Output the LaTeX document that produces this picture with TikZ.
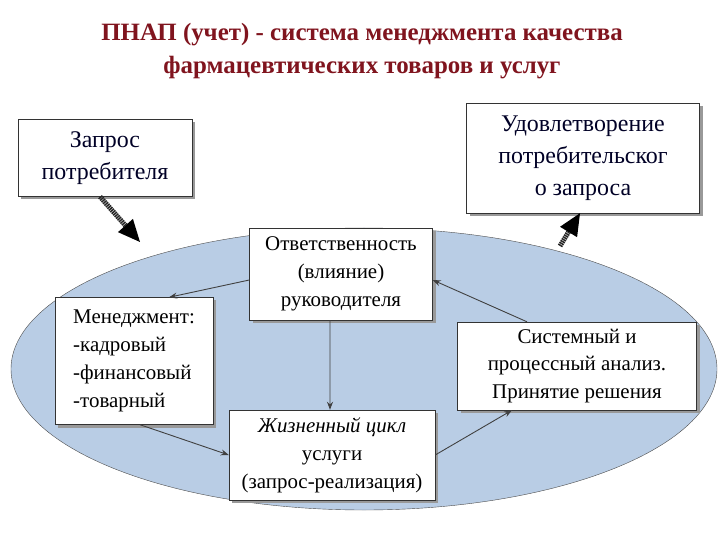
\documentclass[tikz,border=0pt]{standalone}
\usepackage{fontspec}
\setmainfont{Liberation Serif}
\usetikzlibrary{shadows,arrows.meta,shapes.geometric}
\begin{document}
\begin{tikzpicture}[x=1bp,y=-1bp,
  box/.style={draw=black!80,fill=white,drop shadow={shadow xshift=3bp,shadow yshift=-3bp,fill=black!40,opacity=1},align=center,font=\fontsize{21}{28}\selectfont,inner sep=2pt},
  bigbox/.style={box,font=\fontsize{24}{32}\selectfont,text=black!85!blue},
  conn/.style={draw=black!75,line width=0.9pt,-{Stealth[length=8bp,width=6bp]}},
  fat/.style={line width=5pt,draw=black!85,dash pattern=on 1.5pt off 0.7pt,-{Triangle[length=22bp,width=20bp,line width=0pt,fill=black]}}]
\useasboundingbox (0,0) rectangle (720,540);
\node[font=\bfseries\fontsize{25}{33}\selectfont,text={rgb,255:red,128;green,20;blue,30},align=center] (title) at (362,51) {ПНАП (учет) - система менеджмента качества\\фармацевтических товаров и услуг};
\node[ellipse,draw=black!70,fill={rgb,255:red,185;green,205;blue,229},minimum width=706bp,minimum height=282bp] (ell) at (364,369) {};
\node[bigbox,minimum width=174bp,minimum height=77bp] (req) at (105,158) {Запрос\\потребителя};
\node[bigbox,minimum width=233bp,minimum height=110bp] (sat) at (583,158) {Удовлетворение\\потребительског\\о запроса};
\node[box,minimum width=183bp,minimum height=92bp] (resp) at (341,274) {Ответственность\\(влияние)\\руководителя};
\node[box,minimum width=158bp,minimum height=127bp,align=left] (man) at (134,361) {Менеджмент:\\-кадровый\\-финансовый\\-товарный};
\node[box,minimum width=239bp,minimum height=88bp] (sys) at (577,366) {Системный и\\процессный анализ.\\Принятие решения};
\node[box,minimum width=206bp,minimum height=90bp] (life) at (332,455) {\textit{Жизненный цикл}\\услуги\\(запрос-реализация)};
\coordinate (e1) at (140,242);
\coordinate (e2) at (560,246);
\draw[fat] ([xshift=-5bp]req.south) -- (e1);
\draw[fat] (e2) -- ([xshift=-3bp]sat.south);
\draw[conn] ([yshift=-6bp]resp.west) -- ([xshift=35bp]man.north);
\draw[conn] ([xshift=6bp]man.south) -- (life.west);
\draw[conn] (life.east) -- ([xshift=-65bp]sys.south);
\draw[conn] ([xshift=-50bp]sys.north) -- ([yshift=-6bp]resp.east);
\draw[conn] ([xshift=-11bp]resp.south) -- ([xshift=-2bp]life.north);
\end{tikzpicture}
\end{document}
